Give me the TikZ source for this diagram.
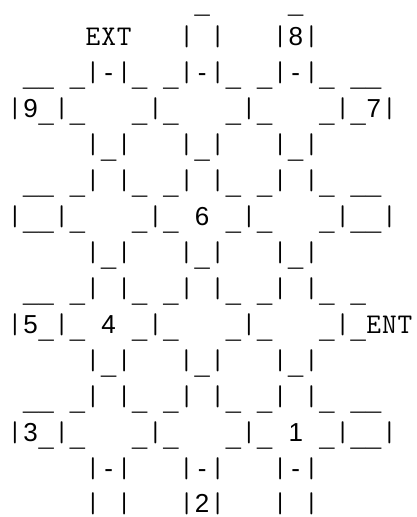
\documentclass[tikz,border=0pt]{standalone}
\usepackage{fontspec}
\newfontfamily\monofont{Liberation Mono}
\newfontfamily\digfont{Liberation Sans}
\newlength\cw
\setlength\cw{15.6pt}
\newcommand\pc[1]{\makebox[\cw][c]{\ifx#1u\raisebox{-5pt}{\monofont\_}\else\ifx#1.\relax\else\ifnum`#1>64 {\ttfamily\fontsize{28.5pt}{36pt}\selectfont#1}\else{\digfont#1}\fi\fi\fi}}
\def\proc#1{\ifx#1\relax\else\pc#1\expandafter\proc\fi}
\tikzset{
  asciiline/.style={anchor=base west, inner sep=0pt, outer sep=0pt,
    font=\monofont\fontsize{26pt}{36pt}\selectfont, text=black}
}
\begin{document}
\begin{tikzpicture}[x=1pt,y=1pt]
\fill[white] (0,0) rectangle (416,-517);
\useasboundingbox (0,0) rectangle (416,-517);
\node[asciiline] (l1)  at (7.2,-8)   {\proc ............u.....u\relax};
\node[asciiline] (l2)  at (7.2,-45)  {\proc .....EXT...|.|...|8|\relax};
\node[asciiline] (l3)  at (7.2,-81)  {\proc .uu.u|-|u.u|-|u.u|-|u.uu\relax};
\node[asciiline] (l4)  at (7.2,-117) {\proc |9u|u...u|u...u|u...u|u7|\relax};
\node[asciiline] (l5)  at (7.2,-153) {\proc .....|u|...|u|...|u|\relax};
\node[asciiline] (l6)  at (7.2,-189) {\proc .uu.u|.|u.u|.|u.u|.|u.uu\relax};
\node[asciiline] (l7)  at (7.2,-225) {\proc |uu|u...u|u.6.u|u...u|uu|\relax};
\node[asciiline] (l8)  at (7.2,-261) {\proc .....|u|...|u|...|u|\relax};
\node[asciiline] (l9)  at (7.2,-297) {\proc .uu.u|.|u.u|.|u.u|.|u.u\relax};
\node[asciiline] (l10) at (7.2,-333) {\proc |5u|u.4.u|u...u|u...u|uENT\relax};
\node[asciiline] (l11) at (7.2,-369) {\proc .....|u|...|u|...|u|\relax};
\node[asciiline] (l12) at (7.2,-405) {\proc .uu.u|.|u.u|.|u.u|.|u.uu\relax};
\node[asciiline] (l13) at (7.2,-441) {\proc |3u|u...u|u...u|u.1.u|uu|\relax};
\node[asciiline] (l14) at (7.2,-477) {\proc .....|-|...|-|...|-|\relax};
\node[asciiline] (l15) at (7.2,-512) {\proc .....|.|...|2|...|.|\relax};
\end{tikzpicture}
\end{document}
